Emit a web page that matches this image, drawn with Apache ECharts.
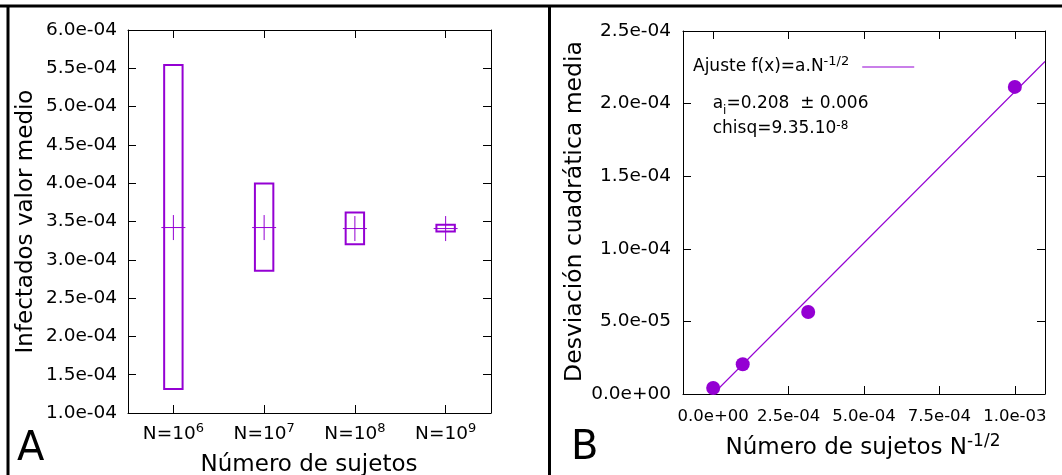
<!DOCTYPE html>
<html>
<head>
<meta charset="utf-8">
<script src="https://cdn.jsdelivr.net/npm/echarts@6/dist/echarts.min.js"></script>
<style>
html,body{margin:0;padding:0;background:#fff;}
#chart{width:1062px;height:475px;}
</style>
</head>
<body>
<div id="chart"></div>
<script>
// ---------- Panel A data ----------
const categories = ['N=10^6', 'N=10^7', 'N=10^8', 'N=10^9'];
const boxLow  = [1.313e-4, 2.856e-4, 3.204e-4, 3.369e-4];
const boxHigh = [5.543e-4, 3.995e-4, 3.617e-4, 3.456e-4];
const boxMean = [3.421e-4, 3.421e-4, 3.408e-4, 3.408e-4];
const yTicksA = { min: 1.0e-4, max: 6.0e-4, interval: 5.0e-5 };

// ---------- Panel B data ----------
const invSqrtN = [0.0, 0.98e-4, 3.15e-4, 1.0e-3];
const sigma    = [4.1e-6, 2.05e-5, 5.65e-5, 2.115e-4];
const fitX = [0.0, 1.1e-3];
const fitY = [0.0, 2.29e-4];
const xTicksB = [0, 2.5e-4, 5.0e-4, 7.5e-4, 1.0e-3];
const xRangeB = { min: -1.0e-4, max: 1.1e-3 };
const yTicksB = { min: 0, max: 2.5e-4, interval: 5.0e-5 };

const PURPLE = '#9400d3';
const FONT = 'DejaVu Sans';

function fmtExp(v) {
  const s = Number(v).toExponential(1);
  const m = s.match(/^(-?[\d.]+)e([+-])(\d+)$/);
  if (!m) return s;
  return m[1] + 'e' + m[2] + m[3].padStart(2, '0');
}

const chart = echarts.init(document.getElementById('chart'), null, { renderer: 'canvas' });

const tickStyle = { show: true, inside: true, length: 8, lineStyle: { color: '#000', width: 1 } };
const lineStyleAx = { show: true, onZero: false, lineStyle: { color: '#000', width: 1 } };

const option = {
  backgroundColor: '#fff',
  animation: false,
  textStyle: { fontFamily: FONT },
  grid: [
    { left: 128, top: 30, width: 363, height: 383 },
    { left: 683, top: 31, width: 362, height: 363 }
  ],
  legend: {
    data: [{ name: 'Ajuste', icon: 'rect', itemStyle: { color: PURPLE } }],
    left: 693, top: 55,
    padding: 0,
    align: 'right',
    itemWidth: 52, itemHeight: 1.2,
    formatter: () => '{m|Ajuste f(x)=a.N}{s|-1/2}{g|}',
    textStyle: {
      fontFamily: FONT, color: '#000',
      rich: {
        m: { fontFamily: FONT, fontSize: 17, lineHeight: 24, color: '#000' },
        s: { fontFamily: FONT, fontSize: 13, lineHeight: 13, verticalAlign: 'top', color: '#000' },
        g: { width: 8, lineHeight: 24 }
      }
    }
  },
  xAxis: [
    {
      type: 'category', gridIndex: 0, position: 'bottom', data: categories,
      axisLine: lineStyleAx,
      axisTick: Object.assign({ alignWithLabel: true }, tickStyle),
      splitLine: { show: false },
      axisLabel: {
        interval: 0, margin: 9, color: '#000',
        formatter: v => { const p = v.split('^'); return '{m|' + p[0] + '}{s|' + p[1] + '}'; },
        rich: {
          m: { fontFamily: FONT, fontSize: 18.5, lineHeight: 25, color: '#000' },
          s: { fontFamily: FONT, fontSize: 13, lineHeight: 13, verticalAlign: 'top', color: '#000' }
        }
      }
    },
    {
      type: 'category', gridIndex: 0, position: 'top', data: categories,
      axisLine: lineStyleAx,
      axisTick: Object.assign({ alignWithLabel: true, interval: 0 }, tickStyle),
      axisLabel: { show: false }, splitLine: { show: false }
    },
    {
      type: 'value', gridIndex: 1, position: 'bottom',
      min: xRangeB.min, max: xRangeB.max,
      axisLine: lineStyleAx,
      axisTick: Object.assign({ customValues: xTicksB }, tickStyle),
      splitLine: { show: false },
      axisLabel: {
        customValues: xTicksB, margin: 14, color: '#000',
        fontFamily: FONT, fontSize: 16.5,
        formatter: v => fmtExp(v)
      }
    },
    {
      type: 'value', gridIndex: 1, position: 'top',
      min: xRangeB.min, max: xRangeB.max,
      axisLine: lineStyleAx,
      axisTick: Object.assign({ customValues: xTicksB }, tickStyle),
      axisLabel: { show: false }, splitLine: { show: false }
    }
  ],
  yAxis: [
    {
      type: 'value', gridIndex: 0, position: 'left',
      min: yTicksA.min, max: yTicksA.max, interval: yTicksA.interval,
      axisLine: lineStyleAx, axisTick: tickStyle, splitLine: { show: false },
      axisLabel: { margin: 11, color: '#000', fontFamily: FONT, fontSize: 18.5, formatter: v => fmtExp(v) }
    },
    {
      type: 'value', gridIndex: 0, position: 'right',
      min: yTicksA.min, max: yTicksA.max, interval: yTicksA.interval,
      axisLine: lineStyleAx, axisTick: tickStyle, splitLine: { show: false },
      axisLabel: { show: false }
    },
    {
      type: 'value', gridIndex: 1, position: 'left',
      min: yTicksB.min, max: yTicksB.max, interval: yTicksB.interval,
      axisLine: lineStyleAx, axisTick: tickStyle, splitLine: { show: false },
      axisLabel: { margin: 12, color: '#000', fontFamily: FONT, fontSize: 18.5, formatter: v => fmtExp(v) }
    },
    {
      type: 'value', gridIndex: 1, position: 'right',
      min: yTicksB.min, max: yTicksB.max, interval: yTicksB.interval,
      axisLine: lineStyleAx, axisTick: tickStyle, splitLine: { show: false },
      axisLabel: { show: false }
    }
  ],
  series: [
    {
      name: 'boxes', type: 'custom', xAxisIndex: 0, yAxisIndex: 0,
      data: categories.map((c, i) => [i, boxLow[i], boxHigh[i]]),
      renderItem: (params, api) => {
        const i = api.value(0);
        const lo = api.coord([i, api.value(1)]);
        const hi = api.coord([i, api.value(2)]);
        const w = api.size([1, 0])[0] * 0.203;
        return {
          type: 'rect',
          shape: { x: lo[0] - w / 2, y: hi[1], width: w, height: lo[1] - hi[1] },
          style: { fill: 'none', stroke: PURPLE, lineWidth: 2 }
        };
      },
      z: 3
    },
    {
      name: 'media', type: 'custom', xAxisIndex: 0, yAxisIndex: 0,
      data: categories.map((c, i) => [i, boxMean[i]]),
      renderItem: (params, api) => {
        const p = api.coord([api.value(0), api.value(1)]);
        return {
          type: 'group',
          children: [
            { type: 'line', shape: { x1: p[0] - 12, y1: p[1], x2: p[0] + 12, y2: p[1] }, style: { stroke: PURPLE, lineWidth: 1 } },
            { type: 'line', shape: { x1: p[0], y1: p[1] - 12.5, x2: p[0], y2: p[1] + 12.5 }, style: { stroke: PURPLE, lineWidth: 1 } }
          ]
        };
      },
      z: 4
    },
    {
      name: 'Ajuste', type: 'line', xAxisIndex: 2, yAxisIndex: 2,
      data: fitX.map((x, i) => [x, fitY[i]]),
      symbol: 'none', showSymbol: false,
      lineStyle: { color: PURPLE, width: 1.1 },
      itemStyle: { color: PURPLE },
      z: 3
    },
    {
      name: 'datos', type: 'scatter', xAxisIndex: 2, yAxisIndex: 2,
      data: invSqrtN.map((x, i) => [x, sigma[i]]),
      symbol: 'circle', symbolSize: 14,
      itemStyle: { color: PURPLE, opacity: 1 },
      z: 4
    }
  ],
  graphic: [
    // frames
    { type: 'line', shape: { x1: 0, y1: 6, x2: 1062, y2: 6 }, style: { stroke: '#000', lineWidth: 3 }, z: 10 },
    { type: 'line', shape: { x1: 8, y1: 5, x2: 8, y2: 475 }, style: { stroke: '#000', lineWidth: 3 }, z: 10 },
    { type: 'line', shape: { x1: 549.5, y1: 5, x2: 549.5, y2: 475 }, style: { stroke: '#000', lineWidth: 3 }, z: 10 },
    // panel letters
    { type: 'text', style: { text: 'A', x: 17, y: 450, fontFamily: FONT, fontSize: 40, fill: '#000', verticalAlign: 'middle', align: 'left' } },
    { type: 'text', style: { text: 'B', x: 571, y: 449, fontFamily: FONT, fontSize: 40, fill: '#000', verticalAlign: 'middle', align: 'left' } },
    // axis titles
    { type: 'text', style: { text: 'Número de sujetos', x: 309, y: 465, fontFamily: FONT, fontSize: 23, fill: '#000', align: 'center', verticalAlign: 'middle' } },
    { type: 'text', x: 26, y: 221.5, rotation: Math.PI / 2,
      style: { text: 'Infectados valor medio', x: 0, y: 0, fontFamily: FONT, fontSize: 23, fill: '#000', align: 'center', verticalAlign: 'middle' } },
    { type: 'text', x: 575, y: 211.5, rotation: Math.PI / 2,
      style: { text: 'Desviación cuadrática media', x: 0, y: 0, fontFamily: FONT, fontSize: 23.5, fill: '#000', align: 'center', verticalAlign: 'middle' } },
    { type: 'text', style: {
        text: '{m|Número de sujetos N}{s|-1/2}', x: 863, y: 448, align: 'center', verticalAlign: 'middle',
        rich: {
          m: { fontFamily: FONT, fontSize: 23, lineHeight: 29, fill: '#000' },
          s: { fontFamily: FONT, fontSize: 17, lineHeight: 17, verticalAlign: 'top', fill: '#000' }
        } } },
    // fit annotations
    { type: 'text', style: {
        text: '{m|a}{b|i}{m|=0.208  ± 0.006}', x: 712.7, y: 103.5, align: 'left', verticalAlign: 'middle',
        rich: {
          m: { fontFamily: FONT, fontSize: 17, lineHeight: 26, fill: '#000' },
          b: { fontFamily: FONT, fontSize: 12, lineHeight: 12, verticalAlign: 'bottom', fill: '#000' }
        } } },
    { type: 'text', style: {
        text: '{m|chisq=9.35.10}{s|-8}', x: 712.7, y: 129, align: 'left', verticalAlign: 'middle',
        rich: {
          m: { fontFamily: FONT, fontSize: 17, lineHeight: 19, fill: '#000' },
          s: { fontFamily: FONT, fontSize: 12, lineHeight: 12, verticalAlign: 'top', fill: '#000' }
        } } }
  ]
};

chart.setOption(option);
</script>
</body>
</html>
